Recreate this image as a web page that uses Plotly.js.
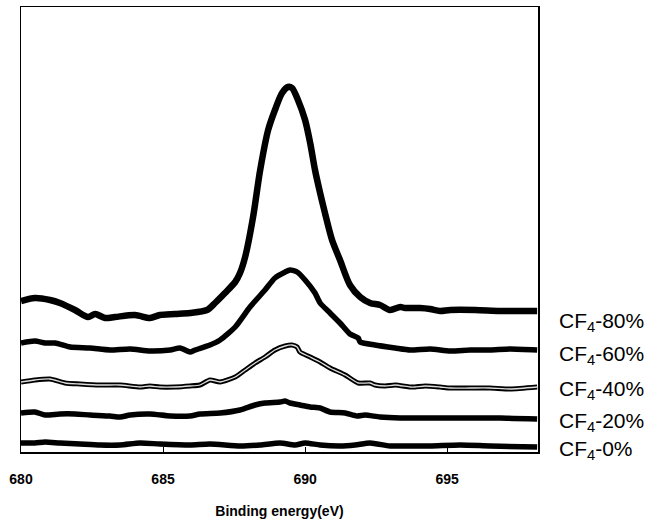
<!DOCTYPE html>
<html>
<head>
<meta charset="utf-8">
<script src="https://cdn.plot.ly/plotly-3.0.1.min.js"></script>
<style>html,body{margin:0;padding:0;background:#fff;}#chart{width:655px;height:524px;}</style>
</head>
<body>
<div id="chart"></div>
<script>
// Binding energy (eV) and intensity (arbitrary units, offset stacked)
const e80 = [680.00,680.49,681.02,681.37,681.90,682.36,682.61,682.96,683.31,684.01,684.54,684.89,685.42,685.95,686.55,686.83,687.18,687.54,687.71,687.89,688.17,688.42,688.70,688.94,689.19,689.40,689.54,689.75,690.00,690.18,690.35,690.53,690.70,690.95,691.23,691.58,691.94,692.29,692.64,692.99,693.35,693.52,694.05,694.40,694.75,695.11,695.99,696.87,698.17];
const i80 = [151,154,152,149,142,135,138,134,135,137,134,137,138,139,142,149,159,170,179,195,235,282,322,342,359,365,364,352,332,309,282,259,239,212,192,167,155,149,147,142,145,144,144,143,141,142,142,141,141];

const e60 = [680.00,680.49,680.85,681.20,681.73,682.43,683.13,683.84,684.54,685.25,685.60,685.95,686.13,686.65,687.01,687.54,688.06,688.59,688.94,689.30,689.47,689.72,690.00,690.35,690.53,690.88,691.23,691.58,691.87,691.94,692.46,693.17,693.70,694.40,695.11,695.81,696.51,697.22,698.17];
const i60 = [109,111,109,109,105,104,102,103,101,102,104,100,102,107,112,125,145,162,174,180,182,180,172,159,149,139,129,118,114,110,107,104,102,103,101,102,102,103,102];

const e40 = [680.00,680.49,681.02,681.55,682.08,682.78,683.49,684.19,684.54,684.89,685.42,685.95,686.30,686.65,687.01,687.54,687.89,688.24,688.59,688.94,689.30,689.54,689.72,689.82,690.18,690.53,690.88,691.41,691.87,692.29,692.46,692.82,693.17,693.70,693.87,694.23,694.75,695.11,695.81,696.51,697.22,698.17];
const i40 = [70,72,73,69,68,67,67,65,66,65,65,66,67,72,70,75,82,89,95,102,106,107,105,100,95,90,84,77,69,69,67,66,67,65,65,66,65,64,64,64,63,65];

const e20 = [680.00,680.49,680.85,681.37,681.90,682.43,683.13,683.49,683.84,684.54,685.25,685.95,686.30,687.01,687.71,688.24,688.59,689.12,689.30,689.47,689.82,690.18,690.53,690.88,691.41,691.83,692.11,692.64,693.35,694.05,694.75,695.81,696.87,698.17];
const i20 = [39,40,37,38,38,37,36,35,37,38,36,36,38,39,42,47,49,50,51,49,47,45,44,40,39,36,37,35,34,34,34,34,34,33];

const e0 = [680.00,680.49,680.85,681.37,682.08,682.78,683.49,684.19,684.89,685.95,686.65,687.71,688.42,689.12,689.65,690.00,690.53,691.23,691.76,692.29,692.99,693.70,694.40,695.46,696.51,698.17];
const i0 = [9,9,10,9,8,7,7,9,8,7,8,6,7,9,7,9,7,6,7,9,6,6,6,7,6,5];

const seriesNames = ["CF<sub>4</sub>-80%","CF<sub>4</sub>-60%","CF<sub>4</sub>-40%","CF<sub>4</sub>-20%","CF<sub>4</sub>-0%"];
const labelLevels = [130, 97, 62, 30, 2];
const xTicks = [680, 685, 690, 695];

const traces = [
  {x:e80, y:i80, mode:'lines', line:{color:'#000', width:6.5, shape:'spline', smoothing:0.8}},
  {x:e60, y:i60, mode:'lines', line:{color:'#000', width:5.5, shape:'spline', smoothing:0.6}},
  {x:e40, y:i40, mode:'lines', line:{color:'#000', width:5, shape:'spline', smoothing:0.6}},
  {x:e40, y:i40, mode:'lines', line:{color:'#ddd', width:1.3, shape:'spline', smoothing:0.6}},
  {x:e20, y:i20, mode:'lines', line:{color:'#000', width:5.5, shape:'spline', smoothing:0.6}},
  {x:e0, y:i0, mode:'lines', line:{color:'#000', width:5.5, shape:'spline', smoothing:0.6}}
];

const annotations = seriesNames.map((t, k) => ({
  text: t, xref:'paper', yref:'y', x: 1.037, y: labelLevels[k],
  xanchor:'left', yanchor:'middle', showarrow:false,
  font:{family:'Liberation Sans, Arial, sans-serif', size:21, color:'#000'}
}));

const layout = {
  width:655, height:524,
  margin:{l:21, r:117, t:7, b:72},
  paper_bgcolor:'#fff', plot_bgcolor:'#fff',
  showlegend:false,
  xaxis:{
    range:[680, 698.2], tickvals:xTicks, ticktext:xTicks.map(String),
    ticks:'inside', ticklen:5, tickcolor:'#000', tickwidth:1,
    showline:true, mirror:true, linecolor:'#000', linewidth:1.5,
    showgrid:false, zeroline:false, ticklabelstandoff:14,
    tickfont:{family:'Liberation Sans, Arial, sans-serif', size:14, color:'#000', weight:'bold'},
    title:{text:'Binding energy(eV)', standoff:20,
      font:{family:'Liberation Sans Narrow, Liberation Sans, Arial, sans-serif', size:14, color:'#000', weight:'bold'}}
  },
  yaxis:{
    range:[0, 445], showticklabels:false, ticks:'',
    showline:true, mirror:true, linecolor:'#000', linewidth:1.5,
    showgrid:false, zeroline:false
  },
  annotations: annotations
};

Plotly.newPlot('chart', traces, layout, {displayModeBar:false, staticPlot:true});
</script>
</body>
</html>
